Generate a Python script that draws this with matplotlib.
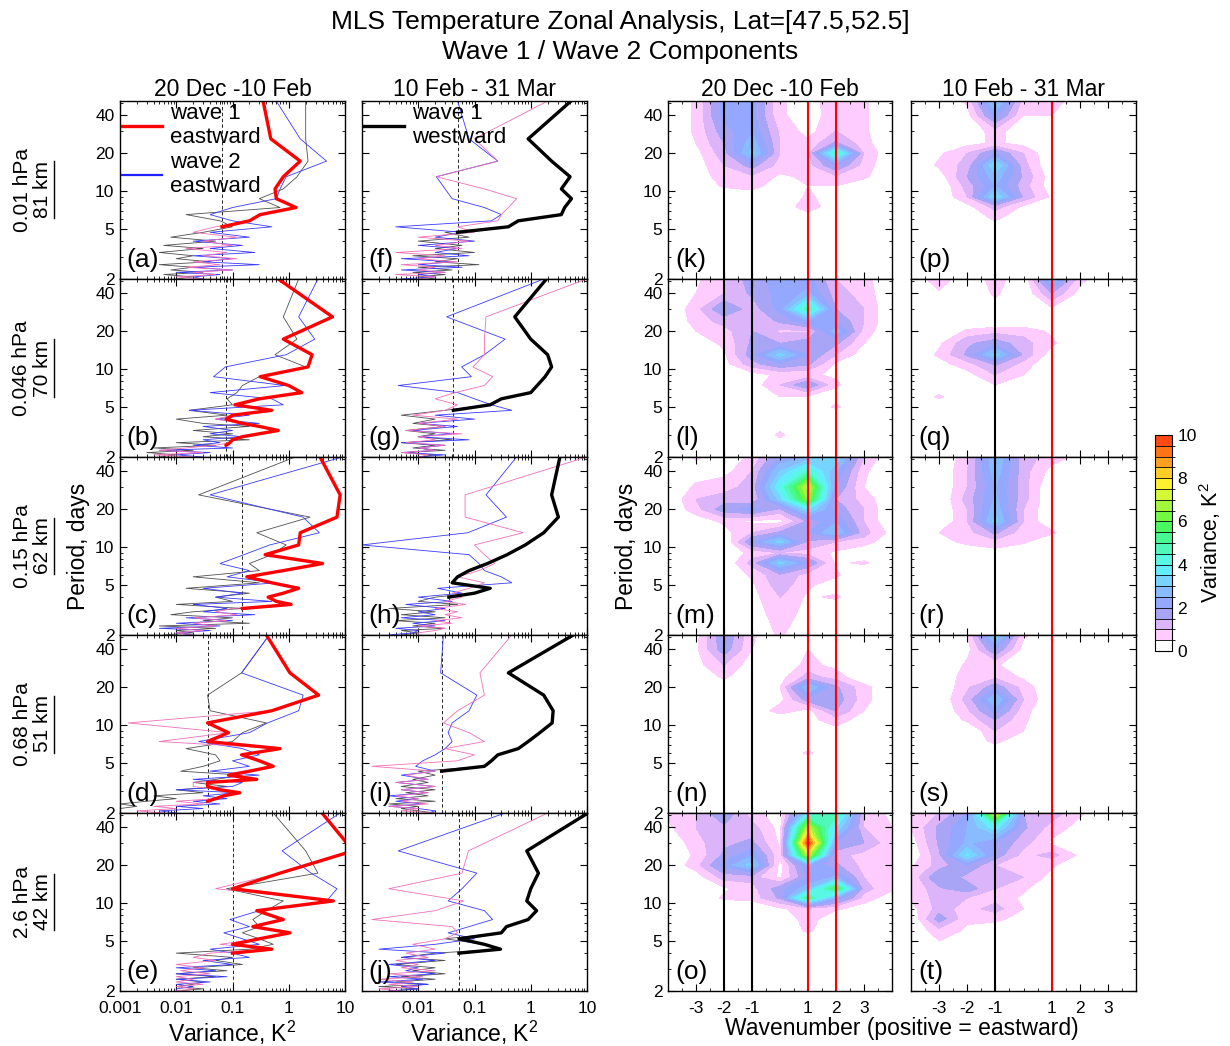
import matplotlib

matplotlib.use("Agg")
import matplotlib.pyplot as plt
from matplotlib.colors import ListedColormap, BoundaryNorm
from matplotlib.lines import Line2D
from matplotlib.ticker import FixedLocator, NullFormatter, MultipleLocator, LogLocator
import numpy as np

plt.rcParams["font.family"] = ["Liberation Sans", "DejaVu Sans"]
plt.rcParams["mathtext.fontset"] = "custom"
plt.rcParams["mathtext.rm"] = "Liberation Sans"

# ---------------------------------------------------------------- data
PERIODS = [52, 26, 17.3, 13, 10.4, 8.7, 7.4, 6.5, 5.8, 5.2, 4.7, 4.3, 4.0, 3.7,
           3.5, 3.25, 3.06, 2.9, 2.74, 2.6, 2.48, 2.36, 2.26, 2.17, 2.08, 2.0]

# panels a-e : 20 Dec - 10 Feb
A_W1E = [0.35, 0.48, 1.6, 0.8, 0.57, 0.6, 1.35, 0.31, 0.2, 0.05, 0.02, 0.12, 0.03, 0.1, 0.015, 0.08, 0.03, 0.12, 0.02, 0.06, 0.015, 0.1, 0.02, 0.05, 0.01, 0.03]
A_W1W = [2.0, 2.0, 2.2, 1.4, 0.8, 0.3, 0.7, 0.015, 0.06, 0.1, 0.03, 0.008, 0.05, 0.006, 0.03, 0.005, 0.02, 0.01, 0.04, 0.005, 0.02, 0.008, 0.03, 0.006, 0.02, 0.01]
A_W2E = [0.6, 1.6, 4.7, 0.9, 0.7, 0.6, 0.1, 0.04, 0.1, 0.5, 0.04, 0.2, 0.02, 0.15, 0.04, 0.25, 0.02, 0.1, 0.03, 0.3, 0.02, 0.1, 0.01, 0.06, 0.02, 0.03]

B_W1E = [0.65, 6.0, 0.8, 2.6, 2.2, 0.31, 1.0, 1.7, 0.3, 0.11, 0.5, 0.1, 0.05, 0.15, 0.3, 0.65, 0.3, 0.15, 0.1, 0.09, 0.05, 0.015, 0.005, 0.03, 0.004, 0.02]
B_W1W = [1.5, 0.8, 1.4, 0.57, 2.0, 0.3, 0.15, 0.12, 0.08, 0.1, 0.017, 0.08, 0.01, 0.03, 0.2, 0.02, 0.1, 0.03, 0.2, 0.01, 0.05, 0.004, 0.02, 0.003, 0.01, 0.005]
B_W2E = [3.3, 1.5, 2.9, 0.9, 0.075, 0.046, 0.85, 0.04, 0.5, 0.8, 0.017, 0.2, 0.05, 0.3, 0.03, 0.1, 0.04, 0.15, 0.03, 0.06, 0.02, 0.1, 0.005, 0.04, 0.01, 0.03]

C_W1E = [3.6, 8.2, 7.2, 1.6, 1.5, 0.38, 4.0, 0.8, 0.18, 0.5, 1.5, 0.8, 0.43, 0.6, 1.1, 0.1, 0.05, 0.12, 0.02, 0.08, 0.02, 0.05, 0.01, 0.03, 0.01, 0.02]
C_W1W = [1.3, 0.025, 2.4, 0.27, 0.9, 0.5, 0.2, 0.3, 0.02, 0.3, 0.015, 0.2, 0.05, 0.1, 0.01, 0.15, 0.02, 0.008, 0.1, 0.03, 0.2, 0.005, 0.05, 0.01, 0.02, 0.006]
C_W2E = [9.0, 0.04, 1.8, 3.5, 0.46, 0.16, 0.06, 0.2, 0.08, 0.6, 0.03, 0.15, 0.05, 0.5, 0.02, 0.08, 0.03, 0.25, 0.015, 0.1, 0.01, 0.06, 0.005, 0.04, 0.01, 0.02]

D_W1E = [0.4, 1.05, 3.4, 0.5, 0.0014, 0.085, 0.005, 0.7, 0.145, 0.3, 0.53, 0.2, 0.085, 0.27, 0.02, 0.02, 0.06, 0.135, 0.07, 0.05, 0.01, 0.03, 0.004, 0.01, 0.002, 0.006]
D_W1W = [0.45, 0.145, 0.036, 0.04, 0.4, 0.15, 0.1, 0.015, 0.05, 0.06, 0.03, 0.012, 0.15, 0.05, 0.02, 0.08, 0.01, 0.03, 0.004, 0.01, 0.003, 0.001, 0.002, 0.001, 0.001, 0.001]
D_W2E = [0.45, 0.145, 1.8, 1.5, 0.42, 0.2, 0.025, 0.15, 0.3, 0.1, 0.2, 0.04, 0.3, 0.02, 0.15, 0.1, 0.01, 0.12, 0.03, 0.08, 0.02, 0.06, 0.01, 0.03, 0.005, 0.01]

E_W1E = [3.9, 14.0, 0.7, 0.05, 6.2, 0.27, 0.8, 0.23, 1.05, 0.3, 0.06, 0.5, 0.04, 0.02, 0.05, 0.01, 0.03, 0.012, 0.04, 0.01, 0.02, 0.01, 0.03, 0.01, 0.02, 0.01]
E_W1W = [0.53, 2.0, 3.3, 0.078, 0.8, 0.4, 0.23, 0.3, 0.15, 0.3, 0.53, 0.2, 0.01, 0.1, 0.05, 0.15, 0.02, 0.08, 0.01, 0.05, 0.01, 0.03, 0.02, 0.01, 0.03, 0.01]
E_W2E = [8.2, 0.76, 2.5, 7.2, 4.7, 0.3, 0.09, 0.2, 0.07, 0.15, 0.3, 0.04, 0.1, 0.2, 0.03, 0.1, 0.01, 0.05, 0.01, 0.08, 0.01, 0.04, 0.01, 0.02, 0.01, 0.01]

# panels f-j : 10 Feb - 31 Mar
F_W1E = [2.0, 0.1, 0.26, 0.021, 0.15, 0.56, 0.4, 0.3, 0.26, 0.05, 0.1, 0.01, 0.08, 0.02, 0.06, 0.004, 0.03, 0.01, 0.05, 0.005, 0.02, 0.01, 0.03, 0.004, 0.02, 0.01]
F_W1W = [5.2, 0.9, 2.35, 5.0, 3.5, 5.3, 4.0, 3.5, 0.6, 0.4, 0.03, 0.08, 0.01, 0.06, 0.02, 0.1, 0.008, 0.05, 0.02, 0.12, 0.01, 0.04, 0.008, 0.03, 0.01, 0.02]
F_W2E = [0.05, 0.08, 0.26, 0.021, 0.03, 0.04, 0.15, 0.3, 0.2, 0.004, 0.06, 0.02, 0.1, 0.01, 0.05, 0.02, 0.08, 0.005, 0.04, 0.01, 0.06, 0.005, 0.03, 0.01, 0.02, 0.005]

G_W1E = [9.8, 0.16, 0.15, 0.15, 0.094, 0.21, 0.15, 0.045, 0.02, 0.05, 0.03, 0.008, 0.05, 0.01, 0.03, 0.006, 0.06, 0.01, 0.02, 0.006, 0.03, 0.01, 0.02, 0.005, 0.015, 0.01]
G_W1W = [1.9, 0.52, 1.0, 2.0, 2.35, 1.8, 1.3, 1.0, 0.3, 0.19, 0.03, 0.005, 0.02, 0.008, 0.03, 0.006, 0.02, 0.01, 0.04, 0.005, 0.02, 0.008, 0.03, 0.006, 0.02, 0.01]
G_W2E = [1.7, 0.032, 0.35, 0.15, 0.059, 0.088, 0.0044, 0.05, 0.1, 0.2, 0.46, 0.02, 0.1, 0.01, 0.05, 0.008, 0.04, 0.01, 0.08, 0.005, 0.03, 0.01, 0.02, 0.005, 0.03, 0.01]

H_W1E = [9.8, 0.068, 0.068, 0.73, 0.1, 0.15, 0.23, 0.12, 0.05, 0.15, 0.08, 0.04, 0.06, 0.03, 0.07, 0.02, 0.05, 0.03, 0.06, 0.02, 0.04, 0.01, 0.03, 0.02, 0.01, 0.01]
H_W1W = [3.3, 2.35, 3.1, 1.7, 0.8, 0.38, 0.17, 0.08, 0.05, 0.04, 0.19, 0.1, 0.02, 0.01, 0.05, 0.003, 0.02, 0.005, 0.03, 0.004, 0.02, 0.008, 0.03, 0.005, 0.01, 0.005]
H_W2E = [0.56, 0.16, 0.37, 0.076, 0.001, 0.08, 0.12, 0.15, 0.3, 0.46, 0.022, 0.06, 0.01, 0.04, 0.006, 0.03, 0.01, 0.02, 0.005, 0.03, 0.008, 0.02, 0.004, 0.01, 0.008, 0.003]

I_W1E = [0.46, 0.125, 0.15, 0.05, 0.028, 0.08, 0.15, 0.03, 0.1, 0.05, 0.0015, 0.02, 0.006, 0.015, 0.004, 0.02, 0.005, 0.015, 0.004, 0.01, 0.005, 0.015, 0.003, 0.01, 0.005, 0.02]
I_W1W = [5.7, 0.4, 1.7, 2.5, 2.4, 1.45, 0.9, 0.6, 0.26, 0.2, 0.15, 0.01, 0.02, 0.008, 0.015, 0.005, 0.02, 0.006, 0.015, 0.004, 0.02, 0.003, 0.01, 0.005, 0.01, 0.02]
I_W2E = [0.028, 0.025, 0.11, 0.08, 0.04, 0.034, 0.04, 0.03, 0.02, 0.012, 0.009, 0.02, 0.005, 0.015, 0.004, 0.02, 0.005, 0.015, 0.003, 0.01, 0.004, 0.012, 0.003, 0.01, 0.02, 0.015]

J_W1E = [2.0, 0.078, 0.06, 0.003, 0.065, 0.02, 0.0015, 0.04, 0.05, 0.03, 0.008, 0.02, 0.006, 0.015, 0.004, 0.01, 0.005, 0.02, 0.003, 0.012, 0.002, 0.008, 0.003, 0.01, 0.002, 0.005]
J_W1W = [10.4, 0.85, 1.37, 1.0, 0.85, 1.27, 0.9, 0.37, 0.3, 0.03, 0.15, 0.29, 0.02, 0.005, 0.03, 0.004, 0.02, 0.008, 0.03, 0.005, 0.02, 0.004, 0.015, 0.002, 0.01, 0.003]
J_W2E = [0.35, 0.0044, 0.11, 0.06, 0.034, 0.15, 0.21, 0.08, 0.034, 0.1, 0.02, 0.002, 0.03, 0.005, 0.02, 0.003, 0.01, 0.006, 0.02, 0.003, 0.012, 0.002, 0.015, 0.005, 0.01, 0.003]

# dashed significance level per panel and number of points in the bold curve
THRESH_DJ = [0.065, 0.077, 0.15, 0.036, 0.1]
THRESH_FM = [0.05, 0.042, 0.035, 0.026, 0.053]
NSIG_DJ = [10, 21, 16, 21, 13]
NSIG_FM = [11, 11, 13, 12, 13]

# wavenumber-period spectra (rows = CONT_PERIODS, cols = WAVENUMBERS)
WAVENUMBERS = [-4, -3, -2, -1, 0, 1, 2, 3, 4]
CONT_PERIODS = [52, 40, 30, 24, 20, 16, 13, 11, 9, 7.5, 6, 5, 4, 3, 2]

K_GRID = [[0, 0.6, 2.2, 2.2, 0.6, 0.2, 0.9, 0.6, 0],
          [0, 0.6, 2.2, 2.2, 0.6, 0.2, 0.8, 0.6, 0],
          [0, 0.6, 1.8, 2.4, 0.9, 0.3, 1.0, 0.6, 0],
          [0, 0.5, 1.5, 2.8, 1.0, 0.6, 1.6, 0.7, 0],
          [0, 0.3, 1.3, 3.2, 1.0, 0.9, 4.6, 1.0, 0],
          [0, 0.2, 1.0, 1.7, 0.8, 0.8, 2.0, 0.8, 0],
          [0, 0, 0.9, 0.9, 0.4, 0.6, 0.9, 0.6, 0],
          [0, 0, 0.6, 0.7, 0.2, 0.5, 0.5, 0.2, 0],
          [0, 0, 0, 0.2, 0, 0.6, 0.2, 0, 0],
          [0, 0, 0, 0, 0, 0.9, 0, 0, 0],
          [0, 0, 0, 0, 0, 0, 0, 0, 0],
          [0, 0, 0, 0, 0, 0, 0, 0, 0],
          [0, 0, 0, 0, 0, 0, 0, 0, 0],
          [0, 0, 0, 0, 0, 0, 0, 0, 0],
          [0, 0, 0, 0, 0, 0, 0, 0, 0]]
L_GRID = [[0, 0.4, 0.9, 1.8, 2.2, 2.2, 1.0, 0.7, 0],
          [0, 0.5, 1.0, 1.6, 2.2, 2.6, 1.2, 0.8, 0],
          [0, 0.8, 2.0, 1.2, 2.2, 4.8, 1.5, 1.0, 0],
          [0, 0.7, 1.2, 1.0, 1.6, 2.4, 2.0, 1.0, 0],
          [0, 0.5, 0.8, 1.5, 0.9, 0.9, 2.8, 0.8, 0],
          [0, 0.2, 0.6, 1.6, 1.5, 1.8, 1.6, 0.5, 0],
          [0, 0, 0.4, 1.8, 3.2, 2.0, 1.0, 0.2, 0],
          [0, 0, 0.3, 1.3, 2.0, 1.6, 0.4, 0, 0],
          [0, 0, 0, 0.3, 0.6, 0.6, 0.4, 0, 0],
          [0, 0, 0, 0.2, 1.0, 2.0, 0.6, 0, 0],
          [0, 0, 0, 0, 0.5, 0.4, 0.2, 0, 0],
          [0, 0, 0, 0, 0.2, 0, 0.6, 0, 0],
          [0, 0, 0, 0, 0, 0, 0, 0, 0],
          [0, 0, 0, 0, 0.6, 0, 0, 0, 0],
          [0, 0, 0, 0, 0, 0, 0, 0, 0]]
M_GRID = [[0, 0.6, 0.2, 0.6, 2.0, 2.5, 3.5, 1.0, 0],
          [0, 0.2, 0.3, 1.0, 3.0, 4.5, 2.5, 0.6, 0],
          [0, 0.6, 0.8, 1.2, 4.0, 7.2, 2.0, 0.5, 0],
          [0, 1.0, 1.2, 1.0, 3.2, 6.5, 1.5, 0.8, 0],
          [0, 0.8, 1.8, 2.2, 1.4, 3.5, 1.8, 1.0, 0],
          [0, 0.2, 0.6, 0.4, 0.3, 1.6, 2.4, 1.0, 0],
          [0, 0, 0.3, 1.0, 1.6, 2.0, 3.0, 1.2, 0.3],
          [0, 0, 0, 2.0, 3.2, 1.4, 1.0, 0.8, 0],
          [0, 0, 0, 0.7, 1.0, 0.8, 0.4, 0, 0],
          [0, 0, 0, 1.2, 3.2, 2.0, 0.4, 0.6, 0],
          [0, 0, 0, 0.6, 1.4, 0.8, 0.6, 0, 0],
          [0, 0, 0, 0.4, 1.3, 0.6, 0.2, 0, 0],
          [0, 0, 0, 0.3, 1.0, 0.4, 0.6, 0, 0],
          [0, 0, 0, 0.2, 0.8, 0.3, 0, 0, 0],
          [0, 0, 0, 0, 0.6, 0, 0, 0, 0]]
N_GRID = [[0, 0.3, 2.0, 0.6, 0, 0.2, 0, 0, 0],
          [0, 0.4, 1.8, 0.5, 0, 0.5, 0, 0, 0],
          [0, 0.3, 1.0, 0.2, 0, 0.7, 0.3, 0, 0],
          [0, 0, 0.6, 0, 0.3, 1.2, 0.8, 0, 0],
          [0, 0, 0, 0, 0.5, 3.0, 1.6, 0.7, 0],
          [0, 0, 0, 0, 0.3, 1.8, 1.8, 0.7, 0],
          [0, 0, 0, 0, 0.8, 0.3, 1.5, 0.5, 0],
          [0, 0, 0, 0, 0, 0.3, 0.8, 0.2, 0],
          [0, 0, 0, 0, 0, 0, 0.3, 0, 0],
          [0, 0, 0, 0, 0, 0, 0, 0, 0],
          [0, 0, 0, 0, 0, 0.6, 0, 0, 0],
          [0, 0, 0, 0, 0, 0, 0, 0, 0],
          [0, 0, 0, 0, 0, 0, 0, 0, 0],
          [0, 0, 0, 0, 0, 0, 0, 0, 0],
          [0, 0, 0, 0, 0, 0, 0, 0, 0]]
O_GRID = [[0.6, 1.0, 2.0, 0.7, 0.2, 3.5, 5.0, 1.0, 0.3],
          [0.4, 1.0, 1.4, 1.2, 0.3, 7.0, 3.5, 1.0, 0.5],
          [0, 0.8, 1.4, 1.6, 0.4, 9.9, 2.0, 1.5, 0.6],
          [0, 0.6, 1.6, 2.4, 0.6, 7.0, 1.2, 0.8, 0.8],
          [0, 0.8, 2.2, 3.2, 0.3, 2.5, 1.6, 0.8, 0.7],
          [0, 0.2, 1.2, 1.2, 0.4, 2.0, 2.6, 1.0, 0.6],
          [0, 0, 0.4, 0.8, 1.8, 2.8, 5.8, 1.2, 0.6],
          [0, 0, 0.6, 0.7, 1.6, 5.2, 2.5, 0.8, 0.2],
          [0, 0, 0, 0, 0.4, 0.8, 0.6, 0.2, 0],
          [0, 0, 0, 0, 0, 0.8, 0, 0, 0],
          [0, 0, 0, 0, 0, 0.6, 0, 0, 0],
          [0, 0, 0, 0, 0, 0, 0, 0, 0],
          [0, 0, 0, 0, 0, 0.5, 0.5, 0, 0],
          [0, 0, 0, 0, 0, 0, 0, 0, 0],
          [0, 0, 0, 0, 0, 0, 0, 0, 0]]
P_GRID = [[0, 0, 0.6, 3.2, 0.8, 0.9, 0, 0, 0],
          [0, 0, 0.3, 2.2, 0.5, 0.5, 0, 0, 0],
          [0, 0, 0, 0.8, 0, 0, 0, 0, 0],
          [0, 0, 0.3, 0.6, 0.3, 0, 0, 0, 0],
          [0, 0.4, 1.0, 2.0, 1.0, 0, 0, 0, 0],
          [0, 0.6, 1.2, 3.5, 1.2, 0, 0, 0, 0],
          [0, 0.2, 1.5, 2.8, 1.4, 0.2, 0, 0, 0],
          [0, 0, 1.2, 2.5, 1.2, 0.2, 0, 0, 0],
          [0, 0, 1.0, 3.5, 1.4, 0.4, 0, 0, 0],
          [0, 0, 0.3, 1.2, 0.4, 0, 0, 0, 0],
          [0, 0, 0, 0.6, 0, 0, 0, 0, 0],
          [0, 0, 0, 0, 0, 0, 0, 0, 0],
          [0, 0, 0, 0, 0, 0, 0, 0, 0],
          [0, 0, 0, 0, 0, 0, 0, 0, 0],
          [0, 0, 0, 0, 0, 0, 0, 0, 0]]
Q_GRID = [[0, 0.9, 0, 0.8, 0, 3.0, 0.7, 0, 0],
          [0, 0.4, 0, 0.6, 0, 1.5, 0.3, 0, 0],
          [0, 0, 0, 0.3, 0, 0.4, 0, 0, 0],
          [0, 0, 0, 0, 0, 0, 0, 0, 0],
          [0, 0, 0.6, 0.8, 0.8, 0.4, 0, 0, 0],
          [0, 0.4, 1.4, 1.8, 1.2, 0.6, 0, 0, 0],
          [0, 0.6, 1.6, 3.2, 1.4, 0.2, 0, 0, 0],
          [0, 0.3, 0.8, 1.6, 0.8, 0, 0, 0, 0],
          [0, 0, 0.3, 1.0, 0.5, 0, 0, 0, 0],
          [0, 0, 0, 0.5, 0, 0, 0, 0, 0],
          [0, 0.6, 0, 0, 0, 0, 0, 0, 0],
          [0, 0, 0, 0, 0, 0, 0, 0, 0],
          [0, 0, 0, 0, 0, 0, 0, 0, 0],
          [0, 0, 0, 0, 0, 0, 0, 0, 0],
          [0, 0, 0, 0, 0, 0, 0, 0, 0]]
R_GRID = [[0, 0, 0.8, 3.0, 1.2, 0.8, 0.3, 0, 0],
          [0, 0, 1.0, 2.8, 1.2, 0.3, 0, 0, 0],
          [0, 0, 1.0, 2.5, 1.2, 0, 0, 0, 0],
          [0, 0, 1.2, 2.6, 1.2, 0, 0, 0, 0],
          [0, 0, 1.0, 2.8, 1.0, 0, 0, 0, 0],
          [0, 0, 1.0, 3.2, 1.0, 0, 0, 0, 0],
          [0, 0.5, 0.8, 1.6, 0.7, 0.6, 0, 0, 0],
          [0, 0.2, 0.7, 0.8, 0.6, 0, 0, 0, 0],
          [0, 0, 0, 0.3, 0, 0, 0, 0, 0],
          [0, 0, 0, 0, 0, 0, 0, 0, 0],
          [0, 0, 0, 0, 0, 0, 0, 0, 0],
          [0, 0, 0, 0, 0, 0, 0, 0, 0],
          [0, 0, 0, 0, 0, 0, 0, 0, 0],
          [0, 0, 0, 0, 0, 0, 0, 0, 0],
          [0, 0, 0, 0, 0, 0, 0, 0, 0]]
S_GRID = [[0, 0, 0.5, 3.4, 0.6, 0, 0, 0, 0],
          [0, 0, 0.3, 2.0, 0.3, 0, 0, 0, 0],
          [0, 0, 0.6, 0.6, 0, 0, 0, 0, 0],
          [0, 0, 0.8, 0.9, 0.4, 0, 0, 0, 0],
          [0, 0, 0.9, 1.8, 0.8, 0, 0, 0, 0],
          [0, 0, 1.2, 3.0, 1.0, 0, 0, 0, 0],
          [0, 0, 0.9, 2.2, 0.7, 0, 0, 0, 0],
          [0, 0, 0.6, 1.5, 0.6, 0, 0, 0, 0],
          [0, 0, 0, 1.0, 0.5, 0, 0, 0, 0],
          [0, 0, 0, 0.7, 0, 0, 0, 0, 0],
          [0, 0, 0, 0, 0, 0, 0, 0, 0],
          [0, 0, 0, 0, 0, 0, 0, 0, 0],
          [0, 0, 0, 0, 0, 0, 0, 0, 0],
          [0, 0, 0, 0, 0, 0, 0, 0, 0],
          [0, 0, 0, 0, 0, 0, 0, 0, 0]]
T_GRID = [[0.7, 1.0, 2.0, 7.5, 1.5, 1.3, 0.6, 0, 0],
          [0.5, 1.6, 2.5, 3.8, 1.6, 0.8, 0.3, 0, 0],
          [0.2, 1.6, 2.6, 2.0, 1.2, 0.4, 0, 0, 0],
          [0, 1.4, 3.6, 1.8, 0.8, 1.2, 0.4, 0, 0],
          [0.4, 1.2, 2.0, 1.0, 0.8, 0.6, 0, 0, 0],
          [0.6, 2.0, 1.3, 1.5, 1.0, 0.3, 0, 0, 0],
          [0.5, 1.4, 1.8, 1.0, 0.6, 0, 0, 0, 0],
          [0.6, 1.2, 1.0, 0.8, 0.4, 0, 0, 0, 0],
          [0.3, 1.2, 0.8, 1.2, 0.5, 0, 0, 0, 0],
          [0, 1.8, 0.6, 0.7, 0.2, 0, 0, 0, 0],
          [0, 0.8, 0.4, 0, 0, 0, 0, 0, 0],
          [0, 0.5, 0, 0, 0, 0, 0, 0, 0],
          [0, 0, 0, 0, 0, 0, 0, 0, 0],
          [0, 0, 0, 0, 0, 0, 0, 0, 0],
          [0, 0, 0, 0, 0, 0, 0, 0, 0]]

PRESSURE_LABELS = ["0.01 hPa", "0.046 hPa", "0.15 hPa", "0.68 hPa", "2.6 hPa"]
ALT_LABELS = ["81 km", "70 km", "62 km", "51 km", "42 km"]
COL_TITLES = ["20 Dec -10 Feb", "10 Feb - 31 Mar", "20 Dec -10 Feb", "10 Feb - 31 Mar"]
LETTERS = "abcdefghijklmnopqrst"
Y_TICKS = [2, 5, 10, 20, 40]

CMAP_COLORS = ["#ffffff", "#ffccff", "#dcb4fa", "#a8a4f6", "#94a8ff",
               "#88bcff", "#78d4ff", "#64ecff", "#58f8e4", "#50f8bc",
               "#48f890", "#4cf860", "#74f844", "#a4f83c", "#d4f838",
               "#fcf030", "#ffcc28", "#ffa020", "#ff7418", "#ff4a14"]
LEVELS = np.arange(0, 10.01, 0.5)

# ---------------------------------------------------------------- layout
W, H = 1230, 1046
fig = plt.figure(figsize=(W / 100, H / 100), dpi=100)

COL_X = [(120, 345), (362, 587), (668, 892), (911, 1136)]
ROW_TOP, ROW_H = 101, 178
TXT = 16.5
TICK = 12.5


def add_panel(col, row):
    x0, x1 = COL_X[col]
    top = ROW_TOP + row * ROW_H
    return fig.add_axes([x0 / W, 1 - (top + ROW_H) / H, (x1 - x0) / W, ROW_H / H])


def style_period_axis(ax, show_labels):
    ax.set_yscale("log")
    ax.set_ylim(2, 52)
    ax.yaxis.set_major_locator(FixedLocator(Y_TICKS))
    ax.yaxis.set_minor_locator(LogLocator(subs=np.arange(2, 10)))
    ax.yaxis.set_minor_formatter(NullFormatter())
    if show_labels:
        ax.set_yticklabels([str(t) for t in Y_TICKS])
    else:
        ax.set_yticklabels([])
    ax.tick_params(which="both", direction="in", top=True, right=True,
                   labelsize=TICK, pad=4)
    ax.tick_params(axis="x", pad=7)
    ax.tick_params(which="major", length=5)
    ax.tick_params(which="minor", length=2.5)
    for s in ax.spines.values():
        s.set_linewidth(1.0)


line_data = [[(A_W1E, A_W1W, A_W2E), (B_W1E, B_W1W, B_W2E), (C_W1E, C_W1W, C_W2E),
              (D_W1E, D_W1W, D_W2E), (E_W1E, E_W1W, E_W2E)],
             [(F_W1E, F_W1W, F_W2E), (G_W1E, G_W1W, G_W2E), (H_W1E, H_W1W, H_W2E),
              (I_W1E, I_W1W, I_W2E), (J_W1E, J_W1W, J_W2E)]]
thresholds = [THRESH_DJ, THRESH_FM]
nsig = [NSIG_DJ, NSIG_FM]
periods = np.array(PERIODS)

for col in range(2):
    for row in range(5):
        ax = add_panel(col, row)
        e1, w1, e2 = (np.array(v) for v in line_data[col][row])
        thr = thresholds[col][row]
        n = nsig[col][row]
        ax.axvline(thr, color="k", lw=0.6, ls=(0, (4, 3)))
        ax.plot(w1, periods, color="#505050", lw=0.6)
        ax.plot(e2, periods, color="#3a3aff", lw=0.6)
        ax.plot(e1, periods, color="#f070b8", lw=0.6)
        main = e1 if col == 0 else w1
        ax.plot(np.maximum(main[:n], thr), periods[:n],
                color="red" if col == 0 else "black", lw=2.4)
        ax.set_xscale("log")
        ax.set_xlim(1e-3, 10)
        style_period_axis(ax, show_labels=(col == 0))
        ax.xaxis.set_major_locator(FixedLocator([1e-3, 1e-2, 1e-1, 1, 10]))
        ax.xaxis.set_minor_locator(LogLocator(subs=np.arange(2, 10)))
        ax.xaxis.set_minor_formatter(NullFormatter())
        if row == 4:
            labels = ["0.001", "0.01", "0.1", "1", "10"]
            if col == 1:
                labels[0] = ""
            ax.set_xticklabels(labels)
            ax.set_xlabel("Variance, K$^2$", fontsize=TXT, labelpad=2)
        else:
            ax.set_xticklabels([])
        ax.text(0.03, 0.04, f"({LETTERS[col * 5 + row]})", transform=ax.transAxes,
                fontsize=19, ha="left", va="bottom")
        if row == 0:
            ax.set_title(COL_TITLES[col], fontsize=TXT, pad=3)
            if col == 0:
                handles = [Line2D([], [], color="red", lw=2.4),
                           Line2D([], [], color="#2020ff", lw=1.6)]
                labels = ["wave 1\neastward", "wave 2\neastward"]
            else:
                handles = [Line2D([], [], color="black", lw=2.4)]
                labels = ["wave 1\nwestward"]
            ax.legend(handles, labels, loc="upper left", frameon=False, fontsize=16,
                      handlelength=1.8, handletextpad=0.35, borderaxespad=0.0,
                      borderpad=0.1, labelspacing=0.15)
        if col == 0 and row == 2:
            ax.set_ylabel("Period, days", fontsize=TXT, labelpad=4)

cmap = ListedColormap(CMAP_COLORS)
norm = BoundaryNorm(LEVELS, cmap.N)
grids = [[K_GRID, L_GRID, M_GRID, N_GRID, O_GRID],
         [P_GRID, Q_GRID, R_GRID, S_GRID, T_GRID]]
black_lines = [[-2, -1], [-1]]
red_lines = [[1, 2], [1]]
cs = None
for c in range(2):
    for row in range(5):
        ax = add_panel(c + 2, row)
        cs = ax.contourf(WAVENUMBERS, CONT_PERIODS, np.array(grids[c][row]),
                         levels=LEVELS, cmap=cmap, norm=norm)
        for wn in black_lines[c]:
            ax.axvline(wn, color="black", lw=1.5)
        for wn in red_lines[c]:
            ax.axvline(wn, color="red", lw=1.5)
        ax.set_xlim(-4, 4)
        style_period_axis(ax, show_labels=(c == 0))
        ax.xaxis.set_major_locator(FixedLocator([-3, -2, -1, 1, 2, 3]))
        ax.xaxis.set_minor_locator(MultipleLocator(0.5))
        if row == 4:
            ax.set_xticklabels(["-3", "-2", "-1", "1", "2", "3"])
        else:
            ax.set_xticklabels([])
        ax.text(0.035, 0.04, f"({LETTERS[10 + c * 5 + row]})", transform=ax.transAxes,
                fontsize=19, ha="left", va="bottom")
        if row == 0:
            ax.set_title(COL_TITLES[c + 2], fontsize=TXT, pad=3)
        if c == 0 and row == 2:
            ax.set_ylabel("Period, days", fontsize=TXT, labelpad=4)

cax = fig.add_axes([1155 / W, 1 - 651 / H, 17 / W, 216 / H])
cbar = fig.colorbar(cs, cax=cax, ticks=[0, 2, 4, 6, 8, 10], drawedges=True)
cbar.dividers.set_linewidth(0.6)
cbar.outline.set_linewidth(0.8)
cbar.ax.tick_params(labelsize=TICK, length=0, pad=4)
cbar.set_label("Variance, K$^2$", fontsize=15.5, labelpad=0)

# titles and row labels
fig.text(620 / W, 1 - 22 / H, "MLS Temperature Zonal Analysis, Lat=[47.5,52.5]",
         ha="center", va="center", fontsize=19)
fig.text(620 / W, 1 - 52 / H, "Wave 1 / Wave 2 Components",
         ha="center", va="center", fontsize=19)
fig.text(902 / W, 1 - 1028 / H, "Wavenumber (positive = eastward)",
         ha="center", va="center", fontsize=TXT)

km_texts = []
for row in range(5):
    yc = 1 - (ROW_TOP + row * ROW_H + ROW_H / 2) / H
    fig.text(22 / W, yc, PRESSURE_LABELS[row], rotation=90, ha="center",
             va="center", fontsize=TXT - 1.5)
    km_texts.append(fig.text(43 / W, yc, ALT_LABELS[row], rotation=90, ha="center",
                             va="center", fontsize=TXT - 1.5))

fig.canvas.draw()
renderer = fig.canvas.get_renderer()
for t in km_texts:
    bb = t.get_window_extent(renderer)
    x = (bb.x1 + 1.5) / W
    fig.add_artist(Line2D([x, x], [bb.y0 / H, bb.y1 / H], color="black", lw=1.0,
                          transform=fig.transFigure))

fig.savefig("out.png", dpi=100)
